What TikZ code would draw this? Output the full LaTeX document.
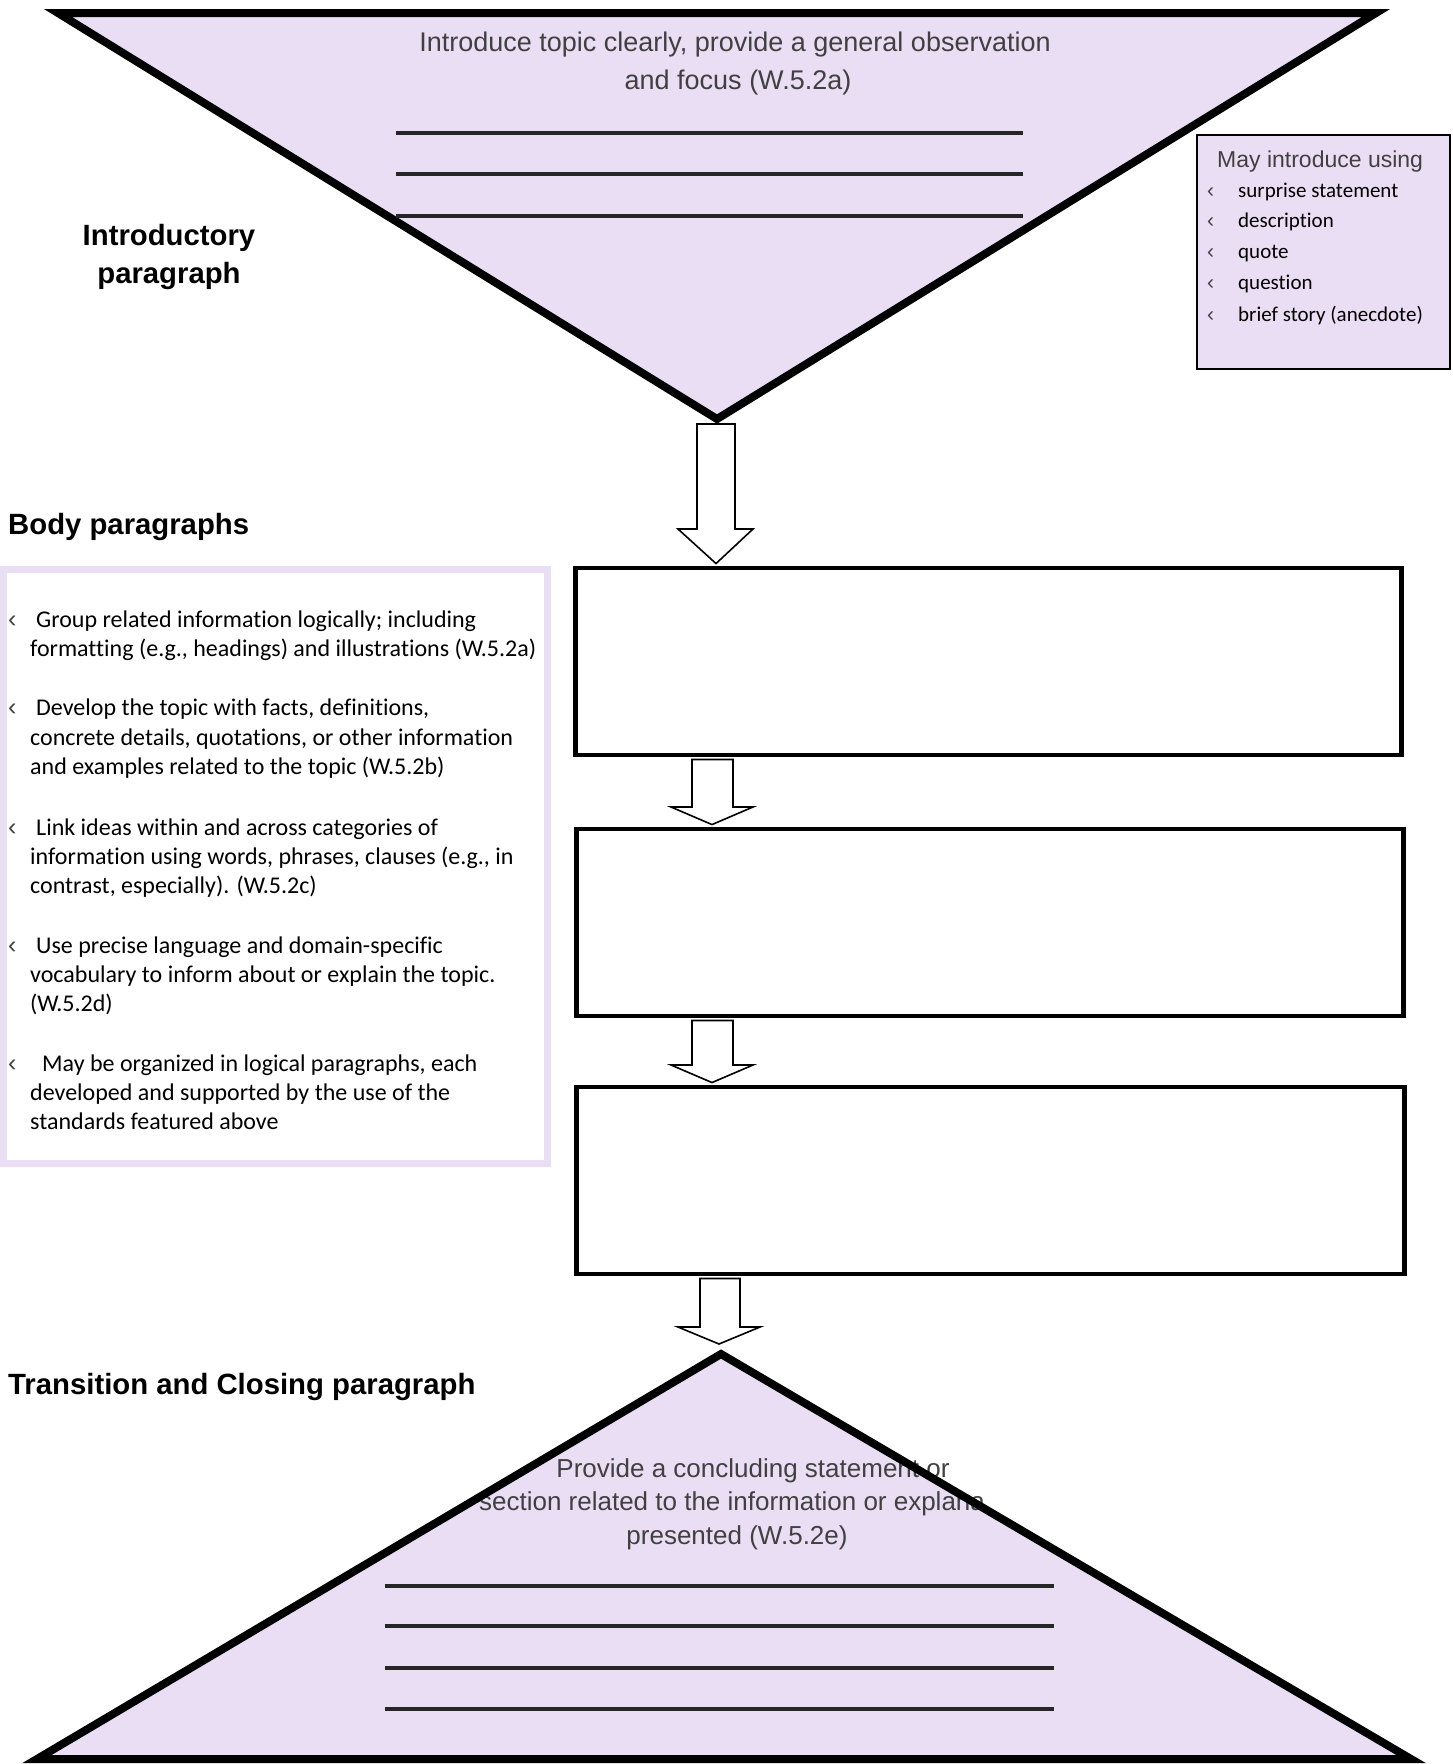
\documentclass[tikz,border=0pt]{standalone}
\usepackage{fontspec}
\setmainfont{Liberation Sans}
\newfontfamily\carlito[Ligatures=NoCommon]{Carlito}
\usetikzlibrary{calc}
\definecolor{lav}{RGB}{233,222,244}
\definecolor{thingray}{RGB}{64,64,64}
\begin{document}
\begin{tikzpicture}[x=1pt,y=-1pt,
  thintxt/.style={font=\fontsize{26}{31}\selectfont, text=thingray, inner sep=0, anchor=base},
  bodytxt/.style={font=\carlito\fontsize{24}{29}\selectfont, inner sep=0, anchor=base west},
  listtxt/.style={font=\carlito\fontsize{21}{25}\selectfont, inner sep=0, anchor=base west},
  bul/.style={font=\fontsize{25}{29}\selectfont, text=black!75, inner sep=0, anchor=base west},
  lbl/.style={font=\bfseries\fontsize{29.3}{34}\selectfont, inner sep=0},
  tri/.style={line width=8pt, line join=miter, draw=black},
  blank/.style={draw, line width=4.5pt, fill=white, inner sep=0, minimum height=187pt},
  blockarrow/.style={draw, line width=1.6pt, fill=white, line join=miter},
  rule/.style={line width=3.2pt, black!85},
]
\useasboundingbox (0,0) rectangle (1453,1764);

% ---------- top triangle ----------
\fill[lav] (58,13) -- (1376,13) -- (717,419) -- cycle;
\draw[tri] (58,13) -- (1376,13) -- (717,419) -- cycle;
\coordinate (apexT) at (717,419);
\node[thintxt, font=\fontsize{27}{32}\selectfont] (t1) at (735,51) {Introduce topic clearly, provide a general observation};
\node[thintxt, font=\fontsize{27}{32}\selectfont] (t2) at (738,89) {and focus (W.5.2a)};
\draw[rule] (396,133) -- (1023,133);
\draw[rule] (396,174) -- (1023,174);
\draw[rule] (396,216) -- (1023,216);

\node[lbl, anchor=base] (intro1) at (169,245) {Introductory};
\node[lbl, anchor=base] (intro2) at (169,283) {paragraph};

% ---------- right box ----------
\node[draw, line width=2pt, fill=lav, minimum width=253pt, minimum height=234pt, inner sep=0] (usebox) at (1323.5,252) {};
\node[thintxt, font=\fontsize{23}{27}\selectfont, anchor=base west] (u0) at (1217,167) {May introduce using};
\node[bul, font=\fontsize{21}{25}\selectfont] (ub1) at (1207,197) {‹};
\node[listtxt] (u1) at (1238,197) {surprise statement};
\node[bul, font=\fontsize{21}{25}\selectfont] (ub2) at (1207,227) {‹};
\node[listtxt] (u2) at (1238,227) {description};
\node[bul, font=\fontsize{21}{25}\selectfont] (ub3) at (1207,258) {‹};
\node[listtxt] (u3) at (1238,258) {quote};
\node[bul, font=\fontsize{21}{25}\selectfont] (ub4) at (1207,289) {‹};
\node[listtxt] (u4) at (1238,289) {question};
\node[bul, font=\fontsize{21}{25}\selectfont] (ub5) at (1207,321) {‹};
\node[listtxt] (u5) at (1238,321) {brief story (anecdote)};

% ---------- body ----------
\node[lbl, anchor=base west] (bodyl) at (8,534) {Body paragraphs};
\node[draw=lav, line width=7pt, minimum width=544pt, minimum height=594pt, inner sep=0] (crit) at (275.5,866.5) {};

\node[bul] (c1) at (8,627) {‹};
\node[bodytxt] (c1a) at (36,627) {Group related information logically; including};
\node[bodytxt] (c1b) at (30,656) {formatting (e.g., headings) and illustrations (W.5.2a)};
\node[bul] (c2) at (8,715) {‹};
\node[bodytxt] (c2a) at (36,715) {Develop the topic with facts, definitions,};
\node[bodytxt] (c2b) at (30,745) {concrete details, quotations, or other information};
\node[bodytxt] (c2c) at (30,774) {and examples related to the topic (W.5.2b)};
\node[bul] (c3) at (8,835) {‹};
\node[bodytxt] (c3a) at (36,835) {Link ideas within and across categories of};
\node[bodytxt] (c3b) at (30,864) {information using words, phrases, clauses (e.g., in};
\node[bodytxt] (c3c) at (30,893) {contrast, especially). (W.5.2c)};
\node[bul] (c4) at (8,953) {‹};
\node[bodytxt] (c4a) at (36,953) {Use precise language and domain-specific};
\node[bodytxt] (c4b) at (30,982) {vocabulary to inform about or explain the topic.};
\node[bodytxt] (c4c) at (30,1011) {(W.5.2d)};
\node[bul] (c5) at (8,1071) {‹};
\node[bodytxt] (c5a) at (42,1071) {May be organized in logical paragraphs, each};
\node[bodytxt] (c5b) at (30,1100) {developed and supported by the use of the};
\node[bodytxt] (c5c) at (30,1129) {standards featured above};

\node[blank, minimum width=826pt] (p1) at (988.5,661.5) {};
\node[blank, minimum width=827pt] (p2) at (990,922.5) {};
\node[blank, minimum width=828pt] (p3) at (990.5,1180.5) {};

\coordinate (a1s) at ([yshift=-5pt]apexT);
\coordinate (p1t) at ([yshift=2.2pt]p1.north);
\coordinate (p1b) at ([yshift=-2.2pt]p1.south);
\coordinate (p2t) at ([yshift=2.2pt]p2.north);
\coordinate (p2b) at ([yshift=-2.2pt]p2.south);
\coordinate (p3t) at ([yshift=2.2pt]p3.north);
\coordinate (p3b) at ([yshift=-2.2pt]p3.south);

\draw[blockarrow] (697,0 |- a1s) -- (697,529) -- (678,529) -- (716,0 |- p1t) -- (753,529) -- (735,529) -- (735,0 |- a1s) -- cycle;
\draw[blockarrow] (692,0 |- p1b) -- (692,807) -- (671,807) -- (712,0 |- p2t) -- (753,807) -- (733,807) -- (733,0 |- p1b) -- cycle;
\draw[blockarrow] (692,0 |- p2b) -- (692,1065) -- (671,1065) -- (712,0 |- p3t) -- (753,1065) -- (733,1065) -- (733,0 |- p2b) -- cycle;

% ---------- closing ----------
\node[lbl, anchor=base west] (closel) at (8,1394) {Transition and Closing paragraph};

\coordinate (apexB) at (721,1354);
\fill[lav] (37,1759) -- (apexB) -- (1411,1759) -- cycle;
\draw[blockarrow] (700,0 |- p3b) -- (700,1327) -- (678,1327) -- (719,1344) -- (760,1327) -- (740,1327) -- (740,0 |- p3b) -- cycle;

\begin{scope}
\clip (0,1300) rectangle (982,1600);
\node[thintxt] (b1) at (753,1477) {Provide a concluding statement or};
\node[thintxt] (b2) at (753,1510) {section related to the information or explanation};
\node[thintxt] (b3) at (737,1544) {presented (W.5.2e)};
\end{scope}
\draw[tri] (37,1759) -- (apexB) -- (1411,1759) -- cycle;

\draw[rule] (385,1586) -- (1054,1586);
\draw[rule] (385,1626) -- (1054,1626);
\draw[rule] (385,1668) -- (1054,1668);
\draw[rule] (385,1709) -- (1054,1709);
\end{tikzpicture}
\end{document}
